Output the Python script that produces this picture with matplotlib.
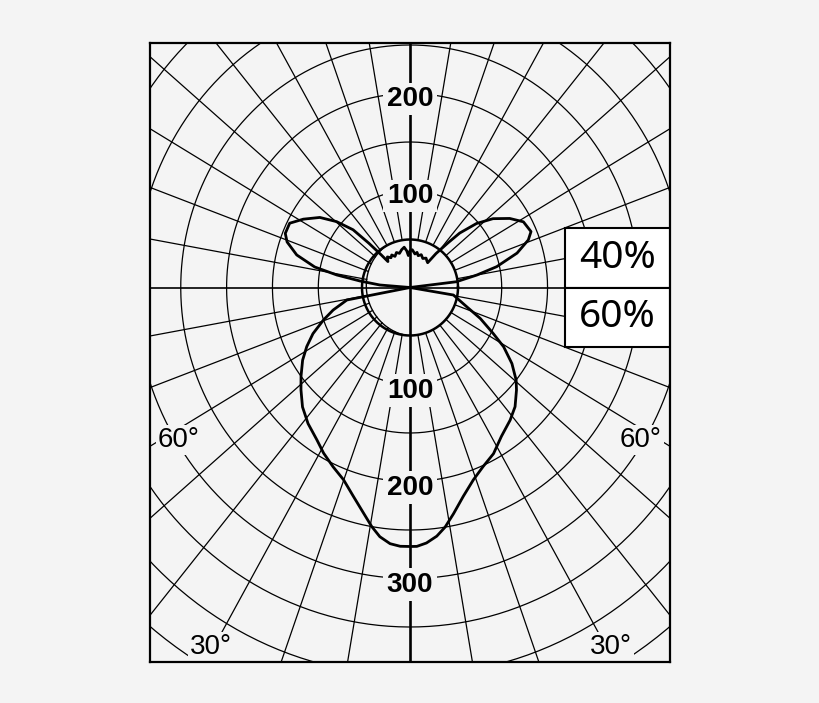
import numpy as np
import matplotlib.pyplot as plt
from matplotlib.patches import Rectangle

plt.rcParams['font.family'] = ['Liberation Sans', 'DejaVu Sans']

# lower hemisphere (60 %): angle from nadir in degrees (negative = left), cd
down_ang = [-90, -79.4, -74.5, -70.5, -65.8, -61.6, -57.4, -52.4, -48.4, -43.6,
            -38.4, -32.9, -28.9, -24.4, -20.1, -16.0, -12.3, -9.6, -7.3, -4.7,
            -2.3, 0, 1.6, 3.9, 6.5, 8.8, 11.5, 15.1, 19.2, 23.4, 28.0, 33.0,
            38.6, 43.0, 47.7, 50.5, 54.8, 59.1, 62.5, 67.4, 72.2, 80.7, 90]
down_cd = [0, 70, 87, 100, 116, 128, 139, 150, 159, 170,
           179, 187, 195, 203, 211, 224, 238, 250, 259, 265,
           267, 267, 267, 264, 258, 250, 238, 223, 210, 201, 194, 183,
           175, 168, 157, 150, 136, 119, 102, 83, 65, 48, 0]

# upper hemisphere (40 %): angle from zenith in degrees (negative = left), cd
up_ang = [-90, -85.5, -83, -80.8, -78.5, -74.8, -70.7, -67.7, -63.2, -58.8,
          -53.7, -49.7, -46.2, -44.5, -43, -42, -38, -34, -30.7, -27,
          -22.3, -18, -13.2, -8.7, -5.4, -3.1, 0, 3.7, 8.8, 12,
          15.2, 20, 25, 30, 34, 37, 39, 42, 44, 47.7,
          51.9, 56.8, 61.3, 66.4, 69.2, 73.1, 77.2, 80, 83.3, 90]
up_cd = [0, 33, 55, 81, 106, 128, 142, 147, 147, 136,
         122, 105, 86, 64, 46, 36, 40, 37, 39, 36,
         39, 37, 40, 42, 38, 33, 38, 39, 35, 37,
         34, 36, 33, 35, 33, 32, 45, 62, 78, 98,
         115, 130, 141, 144, 138, 122, 97, 74, 51, 0]

rings = [100, 150, 200, 250, 300, 350, 400, 450, 500]
spokes = np.arange(0, 360, 10)
up_labels = [100, 200]
down_labels = [100, 200, 300]
side_labels = ['60°', '30°']
shares = ['40%', '60%']

BG = '#f4f4f4'
SX, SY = 0.917, 0.97          # pixels per cd, horizontal / vertical
LAMP = 48                     # lamp circle radius in pixels

fig = plt.figure(figsize=(8.2, 7.03), dpi=100, facecolor=BG)
ax = fig.add_axes([150 / 820, 41 / 703, 520 / 820, 619 / 703])
ax.set_facecolor(BG)
ax.set_xlim(-260 / SX, 260 / SX)
ax.set_ylim(-374.5 / SY, 244.5 / SY)
ax.set_xticks([])
ax.set_yticks([])
for s in ax.spines.values():
    s.set_linewidth(1.6)
    s.set_zorder(10)

t = np.linspace(0, 2 * np.pi, 400)
for r in rings:
    ax.plot(r * np.cos(t), r * np.sin(t), color='black', lw=0.9, zorder=1)


def inner_r(psi):
    # crescent on the lamp's left side
    d = np.degrees(psi) % 360
    if 120 <= d <= 265:
        return LAMP - 4.5 * np.sin(np.pi * (d - 120) / 145)
    return LAMP


for a in spokes:
    if a % 90 == 0:
        continue
    phi = np.radians(a)
    c, s = np.cos(phi), np.sin(phi)
    norm = np.hypot(SX * c, SY * s)
    psi = np.arctan2(SY * s, SX * c)
    r0 = inner_r(psi) / norm
    ax.plot([r0 * c, 800 * c], [r0 * s, 800 * s], color='black', lw=0.9, zorder=1)

ax.axvline(0, color='black', lw=1.9, zorder=2)
ax.axhline(0, color='black', lw=1.2, zorder=2)

# lamp outline
ax.plot(LAMP * np.cos(t) / SX, LAMP * np.sin(t) / SY, color='black', lw=1.8, zorder=3)
ps = np.radians(np.linspace(120, 265, 80))
ri = np.array([inner_r(p) for p in ps])
ax.plot(ri * np.cos(ps) / SX, ri * np.sin(ps) / SY, color='black', lw=1.0, zorder=3)

# light distribution curves
ga = np.radians(down_ang)
ax.plot(np.array(down_cd) * np.sin(ga), -np.array(down_cd) * np.cos(ga),
        color='black', lw=2.0, zorder=4, solid_joinstyle='round')
gu = np.radians(up_ang)
ax.plot(np.array(up_cd) * np.sin(gu), np.array(up_cd) * np.cos(gu),
        color='black', lw=2.0, zorder=4, solid_joinstyle='round')

lab = dict(ha='center', va='center', fontsize=20, fontweight='bold', zorder=6,
           bbox=dict(boxstyle='square,pad=0.12', fc=BG, ec='none'))
for v in up_labels:
    ax.text(0, v - 5.5, str(v), **lab)
for v in down_labels:
    ax.text(0, -v - 6.5, str(v), **lab)

side = dict(ha='center', va='center', fontsize=20, zorder=6,
            bbox=dict(boxstyle='square,pad=0.08', fc=BG, ec='none'))
ax.text(-231 / SX, -152.5 / SY, side_labels[0], **side)
ax.text(231 / SX, -152.5 / SY, side_labels[0], **side)
ax.text(-199 / SX, -360 / SY, side_labels[1], **side)
ax.text(201 / SX, -360 / SY, side_labels[1], **side)

# share box
bx0 = 155 / SX
bw = 110 / SX
bh = 59.5 / SY
for i, txt in enumerate(shares):
    y0 = 0 if i == 0 else -bh
    ax.add_patch(Rectangle((bx0, y0), bw, bh, fc='white', ec='black', lw=1.5, zorder=7))
    ax.text(bx0 + 52.5 / SX, y0 + bh / 2, txt, ha='center', va='center',
            fontsize=28, family=['Noto Sans', 'DejaVu Sans'], zorder=8)

fig.savefig('out.png', dpi=100, facecolor=BG)
